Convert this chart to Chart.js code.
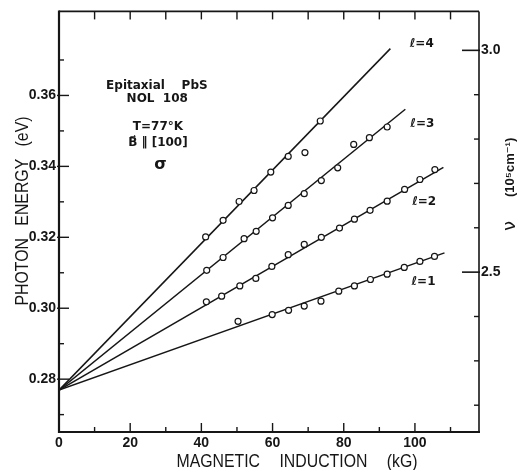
<!DOCTYPE html>
<html>
<head>
<meta charset="utf-8">
<script src="https://cdn.jsdelivr.net/npm/chart.js@4.4.1/dist/chart.umd.min.js"></script>
<style>
  html, body { margin: 0; padding: 0; background: #fff; }
  canvas { display: block; }
</style>
</head>
<body>
<canvas id="landauChart" width="517" height="470"></canvas>
<script>
// measured points, magnetic induction (kG) vs photon energy (eV)
const fieldL1 = [50.3, 59.9, 64.5, 68.9, 73.6, 78.6, 83.0, 87.5, 92.2, 97.0, 101.4, 105.5];
const energyL1 = [0.2963, 0.2982, 0.2994, 0.3006, 0.3020, 0.3048, 0.3063, 0.3081, 0.3096, 0.3115, 0.3132, 0.3146];
const fieldL2 = [41.4, 45.7, 50.8, 55.3, 59.8, 64.4, 68.9, 73.7, 78.8, 83.0, 87.4, 92.2, 97.1, 101.4, 105.6];
const energyL2 = [0.3018, 0.3034, 0.3063, 0.3084, 0.3118, 0.3151, 0.3180, 0.3200, 0.3226, 0.3251, 0.3276, 0.3302, 0.3335, 0.3363, 0.3391];
const fieldL3 = [41.5, 46.1, 52.0, 55.4, 60.0, 64.4, 68.9, 73.7, 78.3, 82.8, 87.2, 92.2];
const energyL3 = [0.3107, 0.3143, 0.3196, 0.3217, 0.3255, 0.3290, 0.3323, 0.3360, 0.3396, 0.3462, 0.3481, 0.3511];
const fieldL4 = [41.2, 46.1, 50.6, 54.8, 59.5, 64.4, 69.1, 73.4];
const energyL4 = [0.3201, 0.3248, 0.3301, 0.3332, 0.3384, 0.3428, 0.3439, 0.3528];

// fitted straight lines, all from the same origin
const levelNames = ['ℓ=1', 'ℓ=2', 'ℓ=3', 'ℓ=4'];
const lineOriginEnergy = 0.2769;
const lineEndField = [108.3, 108.0, 97.3, 93.1];
const lineEndEnergy = [0.3156, 0.3397, 0.3561, 0.3732];

// axes
const fieldMin = 0, fieldMax = 118;
const fieldTicks = [0, 20, 40, 60, 80, 100];
const fieldMinorTicks = [10, 30, 50, 70, 90, 110];
const energyMin = 0.2651, energyMax = 0.3837;
const energyTicks = [0.28, 0.30, 0.32, 0.34, 0.36];
const energyMinorTicks = [0.27, 0.29, 0.31, 0.33, 0.35, 0.37];
const nuMin = 2.1396, nuMax = 3.0878;
const nuTicks = [2.5, 3.0];
const nuMinorTicks = [2.2, 2.3, 2.4, 2.6, 2.7, 2.8, 2.9];

const ink = '#161616';
const tickFont = { family: '"Liberation Sans", Arial, sans-serif', size: 14, weight: 'bold' };

const fields = [fieldL1, fieldL2, fieldL3, fieldL4];
const energies = [energyL1, energyL2, energyL3, energyL4];

const datasets = [];
levelNames.forEach((name, i) => {
  datasets.push({
    type: 'line',
    label: name + ' fit',
    data: [{ x: 0, y: lineOriginEnergy }, { x: lineEndField[i], y: lineEndEnergy[i] }],
    borderColor: ink,
    borderWidth: 1.5,
    pointRadius: 0,
    tension: 0,
    order: 2
  });
  datasets.push({
    type: 'scatter',
    label: name,
    data: fields[i].map((x, j) => ({ x: x, y: energies[i][j] })),
    pointRadius: 3,
    pointBorderWidth: 1.2,
    pointBackgroundColor: '#fff',
    pointBorderColor: ink,
    order: 1
  });
});

// text written on the plot, placed in data units
const levelLabelField = [102.4, 102.6, 102.1, 101.9];
const levelLabelEnergy = [0.3073, 0.3299, 0.3521, 0.3746];
const notes = [
  { text: 'Epitaxial    PbS', x: 27.5, y: 0.3628 },
  { text: 'NOL  108', x: 27.6, y: 0.3589 },
  { text: 'T=77°K', x: 27.8, y: 0.3510 },
  { text: 'B\u20D7 \u2016 [100]', x: 27.8, y: 0.3465 },
  { text: 'σ', x: 28.5, y: 0.3403, size: 16 }
];

function seg(ctx, x1, y1, x2, y2, w) {
  ctx.lineWidth = w;
  ctx.beginPath();
  ctx.moveTo(x1, y1);
  ctx.lineTo(x2, y2);
  ctx.stroke();
}

function words(ctx, list, center, gap) {
  const widths = list.map(w => ctx.measureText(w).width);
  const total = widths.reduce((a, b) => a + b, 0) + gap * (list.length - 1);
  let pos = center - total / 2;
  list.forEach((w, i) => {
    ctx.fillText(w, pos, 0);
    pos += widths[i] + gap;
  });
}

const framePlugin = {
  id: 'frame',
  beforeDraw(chart) {
    const ctx = chart.ctx;
    ctx.save();
    ctx.fillStyle = '#fff';
    ctx.fillRect(0, 0, chart.width, chart.height);
    ctx.restore();
  },
  afterDraw(chart) {
    const { ctx, chartArea: a, scales: { x, y, y2 } } = chart;
    ctx.save();
    ctx.strokeStyle = ink;
    ctx.fillStyle = ink;

    // frame
    seg(ctx, a.left, a.top - 1, a.left, a.bottom + 1, 2.2);
    seg(ctx, a.left - 1, a.bottom, a.right + 1, a.bottom, 2.2);
    seg(ctx, a.left, a.top, a.right, a.top, 1.6);
    seg(ctx, a.right, a.top, a.right, a.bottom, 1.6);

    // inward ticks
    fieldTicks.forEach(v => { const px = x.getPixelForValue(v); seg(ctx, px, a.bottom, px, a.bottom - 9, 1.4); });
    fieldMinorTicks.forEach(v => { const px = x.getPixelForValue(v); seg(ctx, px, a.bottom, px, a.bottom - 5, 1.4); });
    fieldTicks.concat(fieldMinorTicks).filter(v => v > 0).forEach(v => {
      const px = x.getPixelForValue(v); seg(ctx, px, a.top, px, a.top + 8, 1.4);
    });
    energyTicks.forEach(v => { const py = y.getPixelForValue(v); seg(ctx, a.left - 2, py, a.left + 10, py, 1.4); });
    energyMinorTicks.forEach(v => { const py = y.getPixelForValue(v); seg(ctx, a.left, py, a.left + 5, py, 1.4); });
    nuTicks.forEach(v => { const py = y2.getPixelForValue(v); seg(ctx, a.right - 17, py, a.right + 1, py, 1.6); });
    nuMinorTicks.forEach(v => { const py = y2.getPixelForValue(v); seg(ctx, a.right - 5, py, a.right, py, 1.4); });

    // axis titles
    ctx.font = '18px "Liberation Sans", Arial, sans-serif';
    ctx.textBaseline = 'alphabetic';
    ctx.textAlign = 'left';
    ctx.save();
    ctx.translate(297, 467);
    ctx.scale(0.88, 1);
    words(ctx, ['MAGNETIC', 'INDUCTION', '(kG)'], 0, 22);
    ctx.restore();

    ctx.save();
    ctx.translate(28, 211);
    ctx.rotate(-Math.PI / 2);
    ctx.scale(0.88, 1);
    words(ctx, ['PHOTON', 'ENERGY', '(eV)'], 0, 14);
    ctx.restore();

    ctx.save();
    ctx.translate(515, 0);
    ctx.rotate(-Math.PI / 2);
    ctx.font = '18px "DejaVu Sans", sans-serif';
    ctx.fillText('ν', -231, 0);
    ctx.font = 'bold 13px "Liberation Sans", "DejaVu Sans", sans-serif';
    ctx.fillText('(10⁵cm⁻¹)', -197, -1);
    ctx.restore();

    // level labels
    ctx.textAlign = 'center';
    ctx.textBaseline = 'middle';
    ctx.font = 'bold 12px "DejaVu Sans", sans-serif';
    levelNames.forEach((name, i) => {
      ctx.fillText(name, x.getPixelForValue(levelLabelField[i]), y.getPixelForValue(levelLabelEnergy[i]));
    });

    // sample notes
    notes.forEach(n => {
      ctx.font = 'bold ' + (n.size || 12) + 'px "DejaVu Sans", sans-serif';
      ctx.fillText(n.text, x.getPixelForValue(n.x), y.getPixelForValue(n.y));
    });
    ctx.restore();
  }
};

new Chart(document.getElementById('landauChart').getContext('2d'), {
  data: { datasets: datasets },
  options: {
    responsive: false,
    animation: false,
    layout: { padding: { top: 11, left: 0, right: 0, bottom: 0 } },
    plugins: {
      legend: { display: false },
      tooltip: { enabled: false }
    },
    scales: {
      x: {
        type: 'linear',
        position: 'bottom',
        min: fieldMin,
        max: fieldMax,
        grid: { display: false, drawTicks: false },
        border: { display: false },
        afterBuildTicks: s => { s.ticks = fieldTicks.map(v => ({ value: v })); },
        afterFit: s => { s.height = 38; },
        ticks: { font: tickFont, color: ink, padding: 3, maxRotation: 0, autoSkip: false, callback: v => String(v) }
      },
      y: {
        type: 'linear',
        position: 'left',
        min: energyMin,
        max: energyMax,
        grid: { display: false, drawTicks: false },
        border: { display: false },
        afterBuildTicks: s => { s.ticks = energyTicks.map(v => ({ value: v })); },
        afterFit: s => { s.width = 59; },
        ticks: { font: tickFont, color: ink, padding: 3, autoSkip: false, callback: v => v.toFixed(2) }
      },
      y2: {
        type: 'linear',
        position: 'right',
        min: nuMin,
        max: nuMax,
        grid: { display: false, drawTicks: false },
        border: { display: false },
        afterBuildTicks: s => { s.ticks = nuTicks.map(v => ({ value: v })); },
        afterFit: s => { s.width = 38; },
        ticks: { font: tickFont, color: ink, padding: 2, autoSkip: false, callback: v => v.toFixed(1) }
      }
    }
  },
  plugins: [framePlugin]
});
</script>
</body>
</html>
